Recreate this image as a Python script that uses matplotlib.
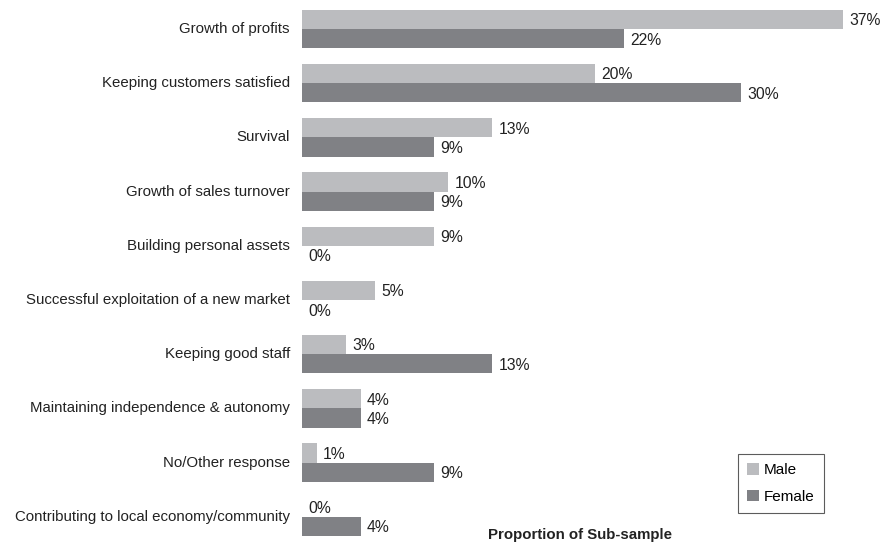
import matplotlib
matplotlib.use("Agg")
from matplotlib import pyplot as plt
import numpy as np

plt.rcParams['font.family'] = ['Liberation Sans', 'DejaVu Sans']

categories = [
    "Growth of profits",
    "Keeping customers satisfied",
    "Survival",
    "Growth of sales turnover",
    "Building personal assets",
    "Successful exploitation of a new market",
    "Keeping good staff",
    "Maintaining independence & autonomy",
    "No/Other response",
    "Contributing to local economy/community",
]
male = [37, 20, 13, 10, 9, 5, 3, 4, 1, 0]
female = [22, 30, 9, 9, 0, 0, 13, 4, 9, 4]

male_col = "#bbbcbf"
female_col = "#808185"

fig = plt.figure(figsize=(8.87, 5.45), dpi=100)
ax = fig.add_axes([302 / 887, 0, 585 / 887, 1])

y = np.arange(len(categories))
h = 0.355
bm = ax.barh(y - h / 2, male, height=h, color=male_col, label="Male")
bf = ax.barh(y + h / 2, female, height=h, color=female_col, label="Female")

for bars, vals in ((bm, male), (bf, female)):
    for b, v in zip(bars, vals):
        ax.annotate(f"{v}%", (v, b.get_y() + b.get_height() / 2),
                    xytext=(4.5, -1), textcoords="offset points",
                    ha="left", va="center", fontsize=11.3, color="#222222")

ax.set_xlim(0, 40)
ax.set_ylim(9.52, -0.535)
for s in ax.spines.values():
    s.set_visible(False)
ax.set_xticks([])
ax.set_yticks([])

for yi, c in zip(y, categories):
    fig.text(290 / 887, 1 - (29 + yi * 54.2) / 545, c, ha="right", va="center",
             fontsize=10.8, color="#222222")

fig.text(580 / 887, 1 - 535 / 545, "Proportion of Sub-sample", ha="center",
         va="center", fontsize=10.8, fontweight="bold", color="#222222")

leg = ax.legend(loc="lower left", bbox_to_anchor=((738 - 302) / 585, 32 / 545),
                frameon=True, fancybox=False, fontsize=11, handlelength=0.8,
                handleheight=0.8, handletextpad=0.3, labelspacing=0.8,
                borderpad=0.6, borderaxespad=0)
leg.get_frame().set_edgecolor("#333333")
leg.get_frame().set_linewidth(0.8)

fig.savefig("out.png", dpi=100)
